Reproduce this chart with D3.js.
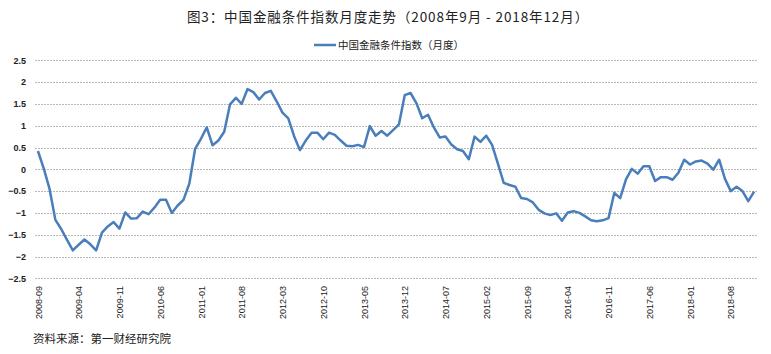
<!DOCTYPE html>
<html>
<head>
<meta charset="utf-8">
<script src="https://cdn.jsdelivr.net/npm/d3@7"></script>
<style>
  body { margin: 0; background: #fff; }
  text { font-family: "Noto Sans CJK SC", "DejaVu Sans", sans-serif; }
</style>
</head>
<body>
<div id="chart"></div>
<script>
const width = 771;
const height = 354;

const title = "图3：中国金融条件指数月度走势（2008年9月 - 2018年12月）";
const seriesName = "中国金融条件指数（月度）";
const source = "资料来源：第一财经研究院";

const startMonth = "2008-09";
const yTicks = [2.5, 2, 1.5, 1, 0.5, 0, -0.5, -1, -1.5, -2, -2.5];
const xTickLabels = ["2008-09", "2009-04", "2009-11", "2010-06", "2011-01", "2011-08",
  "2012-03", "2012-10", "2013-05", "2013-12", "2014-07", "2015-02", "2015-09",
  "2016-04", "2016-11", "2017-06", "2018-01", "2018-08"];

// monthly index values, 2008-09 .. 2018-12
const values = [
  0.42, 0.02, -0.45, -1.16, -1.37, -1.62, -1.86, -1.73, -1.61, -1.72,
  -1.86, -1.45, -1.31, -1.21, -1.36, -0.99, -1.13, -1.12, -0.97, -1.03,
  -0.88, -0.70, -0.70, -1.00, -0.83, -0.70, -0.33, 0.47, 0.70, 0.96,
  0.55, 0.66, 0.86, 1.49, 1.64, 1.50, 1.84, 1.77, 1.60, 1.75,
  1.80, 1.56, 1.30, 1.17, 0.76, 0.44, 0.66, 0.84, 0.84, 0.69,
  0.84, 0.79, 0.66, 0.54, 0.53, 0.56, 0.51, 0.99, 0.77, 0.88,
  0.77, 0.90, 1.03, 1.70, 1.75, 1.52, 1.17, 1.25, 0.96, 0.73,
  0.75, 0.57, 0.46, 0.42, 0.23, 0.75, 0.63, 0.77, 0.56, 0.13,
  -0.31, -0.36, -0.40, -0.66, -0.68, -0.76, -0.93, -1.01, -1.05, -1.01,
  -1.18, -0.99, -0.96, -1.00, -1.08, -1.17, -1.19, -1.17, -1.12, -0.54,
  -0.66, -0.23, 0.01, -0.10, 0.07, 0.07, -0.27, -0.18, -0.18, -0.24,
  -0.08, 0.22, 0.11, 0.18, 0.20, 0.13, -0.01, 0.22, -0.22, -0.50,
  -0.40, -0.50, -0.73, -0.51
];

// build month labels
const parseM = d3.timeParse("%Y-%m");
const fmtM = d3.timeFormat("%Y-%m");
const months = values.map((d, i) => fmtM(d3.timeMonth.offset(parseM(startMonth), i)));
const data = values.map((v, i) => ({ month: months[i], value: v }));

const margin = { left: 35, right: 14, top: 60, bottom: 76 };

const svg = d3.select("#chart").append("svg")
  .attr("width", width)
  .attr("height", height);

const x = d3.scalePoint()
  .domain(months)
  .range([margin.left, width - margin.right])
  .padding(0.5);

const y = d3.scaleLinear()
  .domain([-2.5, 2.5])
  .range([height - margin.bottom + 0.3, margin.top + 0.3]);

// title
svg.append("text")
  .attr("x", 388)
  .attr("y", 22)
  .attr("text-anchor", "middle")
  .attr("font-size", 13.5)
  .attr("letter-spacing", 0.9)
  .attr("fill", "#222")
  .text(title);

// legend
svg.append("line")
  .attr("x1", 314).attr("x2", 336)
  .attr("y1", 45).attr("y2", 45)
  .attr("stroke", "#4a7ebb")
  .attr("stroke-width", 2.5);
svg.append("text")
  .attr("x", 338)
  .attr("y", 49)
  .attr("font-size", 10.5)
  .attr("fill", "#222")
  .text(seriesName);

// gridlines
svg.append("g")
  .selectAll("line")
  .data(yTicks)
  .join("line")
  .attr("x1", margin.left)
  .attr("x2", width - margin.right)
  .attr("y1", (d) => Math.round(y(d)) + 0.5)
  .attr("y2", (d) => Math.round(y(d)) + 0.5)
  .attr("stroke", "#b8b8b8")
  .attr("stroke-dasharray", "2,1");

// y axis labels
const yAxis = d3.axisLeft(y).tickValues(yTicks).tickSize(0).tickPadding(0)
  .tickFormat(d3.format(""));
svg.append("g")
  .attr("transform", `translate(${margin.left - 9},0)`)
  .call(yAxis)
  .call((g) => g.select(".domain").remove())
  .call((g) => g.selectAll("text")
    .attr("font-size", 9)
    .attr("font-weight", "bold")
    .attr("fill", "#222")
    .style("font-family", "Arial, 'Liberation Sans', sans-serif"));

// x axis labels
const xAxis = d3.axisBottom(x).tickValues(xTickLabels).tickSize(0).tickPadding(0);
svg.append("g")
  .attr("transform", `translate(0,${height - margin.bottom + 8})`)
  .call(xAxis)
  .call((g) => g.select(".domain").remove())
  .call((g) => g.selectAll("text")
    .attr("transform", "rotate(-90)")
    .attr("x", 0)
    .attr("y", 0)
    .attr("dx", 0)
    .attr("dy", "0.35em")
    .attr("text-anchor", "end")
    .attr("font-size", 9)
    .attr("fill", "#222")
    .style("font-family", "Arial, 'Liberation Sans', sans-serif"));

// series line
const line = d3.line()
  .x((d) => x(d.month))
  .y((d) => y(d.value));

svg.append("path")
  .datum(data)
  .attr("fill", "none")
  .attr("stroke", "#4a7ebb")
  .attr("stroke-width", 2.5)
  .attr("stroke-linejoin", "round")
  .attr("d", line);

// source note
svg.append("text")
  .attr("x", 33)
  .attr("y", 343)
  .attr("font-size", 11.5)
  .attr("fill", "#222")
  .text(source);
</script>
</body>
</html>
